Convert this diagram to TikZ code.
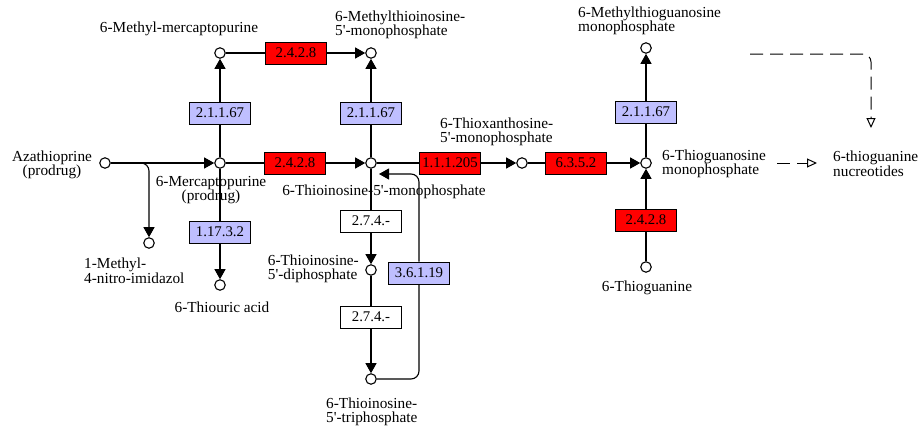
\documentclass[tikz,border=0pt]{standalone}
\usepackage{fontspec}
\setmainfont{Liberation Serif}
\usepackage{tikz}
\usetikzlibrary{positioning, arrows.meta}
\definecolor{kRed}{HTML}{FF0000}
\definecolor{kBlue}{HTML}{BFBFFF}

\begin{document}
\begin{tikzpicture}[x=1pt, y=-1pt,
      cpd/.style={circle, draw, fill=white, line width=1.1pt, inner sep=0pt,
                  minimum size=10.5pt},
      enz/.style={draw, line width=1pt, minimum width=61pt, minimum height=22pt,
                  inner sep=0pt, font=\fontsize{14.8}{15}\selectfont},
      ered/.style={enz, fill=kRed},
      eblue/.style={enz, fill=kBlue},
      ewhite/.style={enz, fill=white},
      txt/.style={inner sep=0pt, font=\fontsize{15.3}{14.5}\selectfont},
      ln/.style={line width=1.1pt},
      arr/.style={ln, -{Triangle[length=10pt, width=11pt]}},
      darr/.style={line width=1pt, dash pattern=on 13pt off 7pt,
                   -{Triangle[open, length=10pt, width=9pt]}}
    ]
    \useasboundingbox (0,0) rectangle (923,431);
    \node[cpd] (aza)    at (105,163) {};
    \node[cpd] (mp)     at (220,163) {};
    \node[cpd] (mmp)    at (220,53)  {};
    \node[cpd] (metimp) at (371,53)  {};
    \node[cpd] (timp)   at (371,163) {};
    \node[cpd] (txmp)   at (522,163) {};
    \node[cpd] (tgmp)   at (646,163) {};
    \node[cpd] (metgmp) at (646,48)  {};
    \node[cpd] (tg)     at (646,267) {};
    \node[cpd] (mni)    at (149,243) {};
    \node[cpd] (tua)    at (220,285) {};
    \node[cpd] (tidp)   at (371,270) {};
    \node[cpd] (titp)   at (371,379) {};
    \node[ered]   (hprt1) at (296,53)  {2.4.2.8};
    \node[eblue]  (tpmt1) at (220,113) {2.1.1.67};
    \node[eblue]  (tpmt2) at (371,113) {2.1.1.67};
    \node[ered]   (hprt2) at (295,163) {2.4.2.8};
    \node[ered]   (impdh) at (450,163) {1.1.1.205};
    \node[ered]   (gmps)  at (576,163) {6.3.5.2};
    \node[eblue]  (tpmt3) at (646,112) {2.1.1.67};
    \node[ered]   (hprt3) at (646,220) {2.4.2.8};
    \node[eblue]  (xo)    at (220,232) {1.17.3.2};
    \node[ewhite] (kin1)  at (371,221) {2.7.4.-};
    \node[eblue]  (itpa)  at (419,273) {3.6.1.19};
    \node[ewhite] (kin2)  at (371,317) {2.7.4.-};
    \node[txt] (mmpl) at (179,29) {6-Methyl-mercaptopurine};
    \node[txt, align=left, anchor=west] (metimpl) at (335,25) {6-Methylthioinosine-\\5\textquotesingle-monophosphate};
    \node[txt, align=center] (azal) at (52,165) {Azathioprine\\(prodrug)};
    \node[txt, align=center] (mpl) at (211,190) {6-Mercaptopurine\\(prodrug)};
    \node[txt] (timpl) at (384,192) {6-Thioinosine-5\textquotesingle-monophosphate};
    \node[txt, align=left, anchor=west] (txmpl) at (440,132) {6-Thioxanthosine-\\5\textquotesingle-monophosphate};
    \node[txt, align=left, anchor=west] (metgmpl) at (578,21) {6-Methylthioguanosine\\monophosphate};
    \node[txt, align=left, anchor=west] (tgmpl) at (662,164) {6-Thioguanosine\\monophosphate};
    \node[txt, align=left, anchor=west] (tgnl) at (833,164) {6-thioguanine\\nucreotides};
    \node[txt] (tgl) at (647,288) {6-Thioguanine};
    \node[txt, align=left, anchor=west] (mnil) at (84,271) {1-Methyl-\\4-nitro-imidazol};
    \node[txt] (tual) at (222,307) {6-Thiouric acid};
    \node[txt, align=left, anchor=east] (tidpl) at (359,269) {6-Thioinosine-\\5\textquotesingle-diphosphate};
    \node[txt, align=left, anchor=west] (titpl) at (326,412) {6-Thioinosine-\\5\textquotesingle-triphosphate};
    \coordinate (br)   at (140,163);
    \coordinate (tin)  at (379,174);
    \coordinate (lk)   at (750,54);
    \coordinate (tgnt) at (871,128);
    \coordinate (tgd1) at (777,163);
    \coordinate (tgd2) at (817,163);
    \draw[arr] (aza) -- (mp);
    \draw[arr, rounded corners=8pt] (br) -| (mni);
    \draw[ln] (mp) -- (tpmt1);
    \draw[arr] (tpmt1) -- (mmp);
    \draw[ln] (mmp) -- (hprt1);
    \draw[arr] (hprt1) -- (metimp);
    \draw[ln] (mp) -- (hprt2);
    \draw[arr] (hprt2) -- (timp);
    \draw[ln] (timp) -- (tpmt2);
    \draw[arr] (tpmt2) -- (metimp);
    \draw[ln] (timp) -- (impdh);
    \draw[arr] (impdh) -- (txmp);
    \draw[ln] (txmp) -- (gmps);
    \draw[arr] (gmps) -- (tgmp);
    \draw[ln] (tgmp) -- (tpmt3);
    \draw[arr] (tpmt3) -- (metgmp);
    \draw[ln] (tg) -- (hprt3);
    \draw[arr] (hprt3) -- (tgmp);
    \draw[ln] (mp) -- (xo);
    \draw[arr] (xo) -- (tua);
    \draw[ln] (timp) -- (kin1);
    \draw[arr] (kin1) -- (tidp);
    \draw[ln] (tidp) -- (kin2);
    \draw[arr] (kin2) -- (titp);
    \draw[ln, rounded corners=8pt] (titp) -| (itpa);
    \draw[arr, rounded corners=8pt] (itpa) |- (tin);
    \draw[darr, rounded corners=8pt] (lk) -| (tgnt);
    \draw[darr] (tgd1) -- (tgd2);
  \end{tikzpicture}
\end{document}
